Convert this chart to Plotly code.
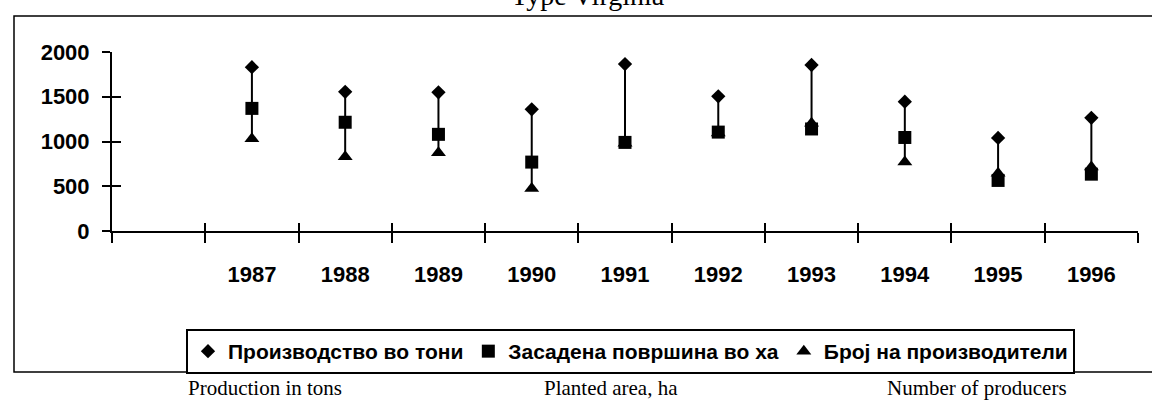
import plotly.graph_objects as go

# ---- data ----
categories = [" ", "1987", "1988", "1989", "1990", "1991", "1992", "1993", "1994", "1995", "1996"]
years = ["1987", "1988", "1989", "1990", "1991", "1992", "1993", "1994", "1995", "1996"]
production = [1830, 1555, 1550, 1360, 1865, 1505, 1855, 1445, 1040, 1265]
planted_area = [1370, 1215, 1080, 770, 990, 1105, 1140, 1045, 565, 635]
producers = [1030, 830, 875, 475, 980, 1095, 1205, 770, 645, 715]
y_ticks = [0, 500, 1000, 1500, 2000]

series_names = ["Производство во тони", "Засадена површина во ха", "Број на производители"]
captions = ["Production in tons", "Planted area, ha", "Number of producers"]
title_text = "Type Virginia"

# ---- layout geometry (pixels) ----
W, H = 1152, 400
ML, MR, MT, MB = 112, 14, 52, 169
PW, PH = W - ML - MR, H - MT - MB


def px_x(p):
    return (p - ML) / PW


def px_y(p):
    return (H - MB - p) / PH


SANS = "Liberation Sans"
SERIF = "Liberation Serif"

fig = go.Figure()

# high-low lines (built from the data)
hl_x, hl_y = [], []
for yr, a, b, c in zip(years, production, planted_area, producers):
    hl_x += [yr, yr, None]
    hl_y += [min(a, b, c), max(a, b, c), None]
fig.add_trace(go.Scatter(x=hl_x, y=hl_y, mode="lines", line=dict(color="black", width=2),
                         showlegend=False, hoverinfo="skip", xaxis="x2", yaxis="y2"))

fig.add_trace(go.Scatter(x=years, y=production, mode="markers", name=series_names[0],
                         marker=dict(symbol="diamond", size=11, color="black")))
fig.add_trace(go.Scatter(x=years, y=planted_area, mode="markers", name=series_names[1],
                         marker=dict(symbol="square", size=13, color="black")))
fig.add_trace(go.Scatter(x=years, y=producers, mode="markers", name=series_names[2],
                         marker=dict(symbol="triangle-up", size=13, color="black")))

axis_font = dict(family=SANS, size=22, color="black", weight="bold")

fig.update_layout(
    width=W, height=H, autosize=False,
    margin=dict(l=ML, r=MR, t=MT, b=MB),
    paper_bgcolor="white", plot_bgcolor="white",
    showlegend=True,
    xaxis=dict(type="category", categoryorder="array", categoryarray=categories,
               range=[-0.5, len(categories) - 0.5], tickson="boundaries",
               ticks="outside", ticklen=10, tickwidth=2, tickcolor="black",
               showline=True, linecolor="black", linewidth=2, showgrid=False, zeroline=False,
               tickfont=axis_font, ticklabelstandoff=23, fixedrange=True),
    yaxis=dict(range=[0, 2000], tickvals=y_ticks, ticks="outside", ticklen=8, tickwidth=2,
               tickcolor="black", showline=True, linecolor="black", linewidth=2,
               showgrid=False, zeroline=False, tickfont=axis_font, ticklabelstandoff=8,
               fixedrange=True),
    xaxis2=dict(type="category", categoryorder="array", categoryarray=categories,
                range=[-0.5, len(categories) - 0.5], tickson="boundaries",
                overlaying="x", anchor="y", side="bottom",
                ticks="inside", ticklen=8, tickwidth=2, tickcolor="black",
                showticklabels=False, showline=False, showgrid=False, zeroline=False,
                fixedrange=True),
    yaxis2=dict(range=[0, 2000], tickvals=y_ticks, overlaying="y", anchor="x", side="left",
                ticks="inside", ticklen=9, tickwidth=2, tickcolor="black",
                showticklabels=False, showline=False, showgrid=False, zeroline=False,
                fixedrange=True),
    legend=dict(orientation="h", x=px_x(186), xanchor="left", y=px_y(329), yanchor="top",
                bordercolor="black", borderwidth=2, bgcolor="white",
                font=dict(family=SANS, size=21, color="black", weight="bold"),
                itemwidth=30, traceorder="normal"),
)

# outer frame of the figure
fig.add_shape(type="rect", xref="paper", yref="paper",
              x0=px_x(14), x1=px_x(1170), y0=px_y(372), y1=px_y(16),
              line=dict(color="black", width=1.5), fillcolor="rgba(0,0,0,0)", layer="below")

# title (cut by the top edge, as in the reference)
fig.add_annotation(text=title_text, xref="paper", yref="paper", x=px_x(588), y=px_y(-5),
                   xanchor="center", yanchor="middle", showarrow=False,
                   font=dict(family=SERIF, size=28, color="black"))

# English captions under the chart
for cap, cx in zip(captions, [265, 611, 977]):
    fig.add_annotation(text=cap, xref="paper", yref="paper", x=px_x(cx), y=px_y(388),
                       xanchor="center", yanchor="middle", showarrow=False,
                       font=dict(family=SERIF, size=21, color="black"))

fig.write_html("out.html",
               config={"displayModeBar": False, "staticPlot": True},
               post_script="document.body.style.margin='0';document.body.style.padding='0';")
